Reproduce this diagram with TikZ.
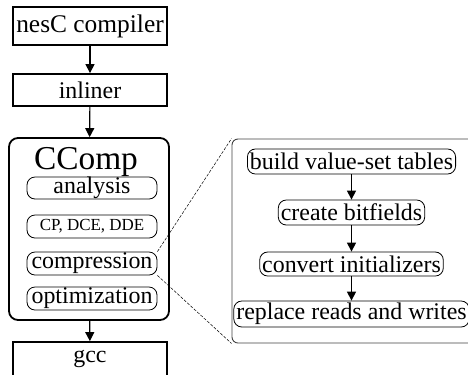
\documentclass[tikz,border=0pt]{standalone}
\usepackage{fontspec}
\setmainfont{Liberation Serif}
\usetikzlibrary{arrows.meta}
\tikzset{
  big/.style={draw, line width=1.8bp, minimum width=154bp, inner sep=0pt, font=\fontsize{24}{28}\selectfont},
  stage/.style={draw, line width=0.8bp, rounded corners=8bp, inner xsep=2.5bp, inner ysep=0pt, font=\fontsize{24}{28}\selectfont},
  arr/.style={-{Triangle[length=9bp,width=9bp]}, line width=1.2bp},
  zoomline/.style={dashed, dash pattern=on 3bp off 1.5bp, line width=0.5bp},
}
\begin{document}
\begin{tikzpicture}[x=1bp,y=-1bp]
\useasboundingbox (0,0) rectangle (468,374);
\clip (0,0) rectangle (468,374);
% left column
\node[big, minimum height=38bp, font=\fontsize{25.5}{29}\selectfont] (nesc) at (90,26) {nesC compiler};
\node[big, minimum height=32bp] (inl) at (90,90) {inliner};
\node[draw, line width=1.8bp, rounded corners=9bp, minimum width=160bp, minimum height=182bp] (ccomp) at (89,229) {};
\node[font=\fontsize{33.5}{38}\selectfont, inner sep=0pt] (cclabel) at (86,162) {CComp};
\node[stage, minimum width=130bp, minimum height=22bp] (ana) at (92,188) {analysis};
\node[stage, minimum width=130bp, minimum height=23bp, font=\fontsize{17}{20}\selectfont] (cp) at (92,226.5) {CP, DCE, DDE};
\node[stage, minimum width=130bp, minimum height=23bp] (comp) at (92,263.5) {compression};
\node[stage, minimum width=130bp, minimum height=23bp] (opt) at (92,298.5) {optimization};
\node[big, minimum height=34bp] (gcc) at (90,359) {gcc};
\draw[arr] (nesc) -- (inl);
\draw[arr] (inl) -- (ccomp);
\draw[arr] (ccomp) -- (gcc);
% zoom panel
\node[draw=black!75, line width=0.9bp, rounded corners=6bp, minimum width=248bp, minimum height=204bp] (panel) at (356,241) {};
\node[stage, minimum height=25bp] (build) at (351.5,161.5) {build value-set tables};
\node[stage, minimum height=25bp] (bit) at (351.5,212.5) {create bitfields};
\node[stage, minimum height=24bp] (conv) at (351.5,264) {convert initializers};
\node[stage, minimum height=26bp] (repl) at (351.5,314) {replace reads and writes};
\draw[arr] (build) -- (bit);
\draw[arr] (bit) -- (conv);
\draw[arr] (conv) -- (repl);
% zoom lines
\draw[zoomline] (comp.north east) -- (panel.north west);
\draw[zoomline] (comp.south east) -- (panel.south west);
\end{tikzpicture}
\end{document}
